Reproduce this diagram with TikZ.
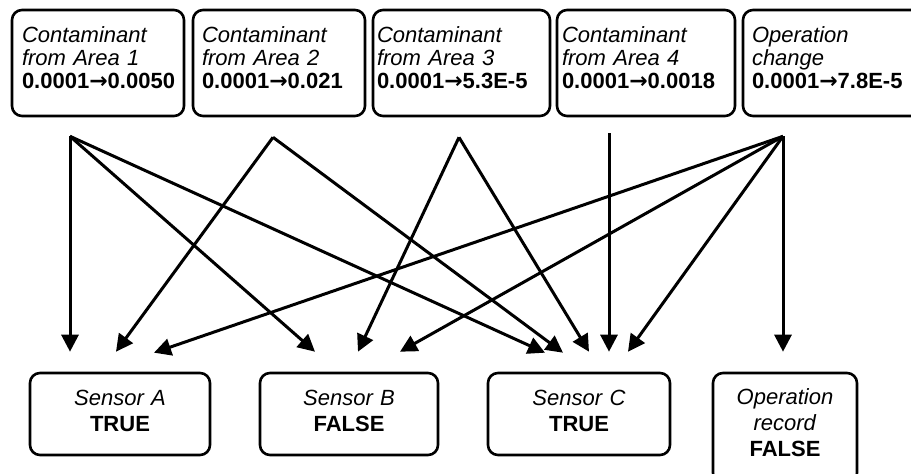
\documentclass[tikz,border=0pt]{standalone}
\usepackage{fontspec}
\setmainfont{Liberation Sans}
\newfontfamily\arrowfont{DejaVu Sans}
\usetikzlibrary{arrows.meta, calc}

\newcommand{\toarrow}{{\arrowfont\bfseries →}}

\begin{document}
\begin{tikzpicture}[
    x=1pt, y=-1pt,
    >={Triangle[length=17pt, width=17pt]},
    topbox/.style={
      rectangle,
      draw,
      rounded corners=10pt,
      line width=2.6pt,
      minimum height=106pt,
      align=left,
      text height=16pt,
      text depth=58pt,
      font=\fontsize{22}{23}\selectfont
    },
    botbox/.style={
      rectangle,
      draw,
      rounded corners=10pt,
      line width=2.6pt,
      align=center,
      inner xsep=0pt,
      text height=16pt,
      font=\fontsize{22}{26}\selectfont
    },
    link/.style={->, line width=3pt}
]

\useasboundingbox (0,0) rectangle (911,474);
\clip (0,0) rectangle (911,474);

% Sumber (atas)
\node[topbox, text width=152pt, inner xsep=10pt] (area1) at (98,63)
  {\textit{Contaminant}\\\textit{from Area 1}\\\textbf{0.0001\toarrow0.0050}};
\node[topbox, text width=154pt, inner xsep=9pt] (area2) at (279,63)
  {\textit{Contaminant}\\\textit{from Area 2}\\\textbf{0.0001\toarrow0.021}};
\node[topbox, text width=169pt, inner xsep=4pt] (area3) at (461.5,63)
  {\textit{Contaminant}\\\textit{from Area 3}\\\textbf{0.0001\toarrow5.3E-5}};
\node[topbox, text width=168pt, inner xsep=5pt] (area4) at (646,63)
  {\textit{Contaminant}\\\textit{from Area 4}\\\textbf{0.0001\toarrow0.0018}};
\node[topbox, text width=162pt, inner xsep=9pt] (opchange) at (833,63)
  {\textit{Operation}\\\textit{change}\\\textbf{0.0001\toarrow7.8E-5}};

% Pengamatan (bawah)
\node[botbox, text width=180pt, minimum height=82pt, text depth=34pt] (sensA) at (120,414)
  {\textit{Sensor A}\\\textbf{TRUE}};
\node[botbox, text width=178pt, minimum height=82pt, text depth=34pt] (sensB) at (349,414)
  {\textit{Sensor B}\\\textbf{FALSE}};
\node[botbox, text width=182pt, minimum height=82pt, text depth=34pt] (sensC) at (579,414)
  {\textit{Sensor C}\\\textbf{TRUE}};
\node[botbox, text width=144pt, minimum height=110pt, text depth=64pt] (oprec) at (785,428)
  {\textit{Operation}\\\textit{record}\\\textbf{FALSE}};

% Titik awal panah
\coordinate (a1) at ($(area1.south)+(-28,19)$);
\coordinate (a2) at ($(area2.south)+(-6,20)$);
\coordinate (a3) at ($(area3.south)+(-2.5,20)$);
\coordinate (a4) at ($(area4.south)+(-37,16)$);
\coordinate (a5) at ($(opchange.south)+(-50,19)$);

% Titik ujung panah
\coordinate (pA1) at ($(sensA.north)+(-50,-20)$);
\coordinate (pA2) at ($(sensA.north)+(-4,-20)$);
\coordinate (pA5) at ($(sensA.north)+(34,-19)$);
\coordinate (pB1) at ($(sensB.north)+(-34,-20)$);
\coordinate (pB3) at ($(sensB.north)+(9,-20)$);
\coordinate (pB5) at ($(sensB.north)+(51,-20)$);
\coordinate (pC1) at ($(sensC.north)+(-34,-19)$);
\coordinate (pC2) at ($(sensC.north)+(-16,-19)$);
\coordinate (pC3) at ($(sensC.north)+(10,-20)$);
\coordinate (pC4) at ($(sensC.north)+(30,-20)$);
\coordinate (pC5) at ($(sensC.north)+(49,-20)$);
\coordinate (pR5) at ($(oprec.north)+(-2,-20)$);

% Area 1
\draw[link] (a1) -- (pA1);
\draw[link] (a1) -- (pB1);
\draw[link] (a1) -- (pC1);

% Area 2
\draw[link] (a2) -- (pA2);
\draw[link] (a2) -- (pC2);

% Area 3
\draw[link] (a3) -- (pB3);
\draw[link] (a3) -- (pC3);

% Area 4
\draw[link] (a4) -- (pC4);

% Operation change
\draw[link] (a5) -- (pA5);
\draw[link] (a5) -- (pB5);
\draw[link] (a5) -- (pC5);
\draw[link] (a5) -- (pR5);

\end{tikzpicture}
\end{document}
